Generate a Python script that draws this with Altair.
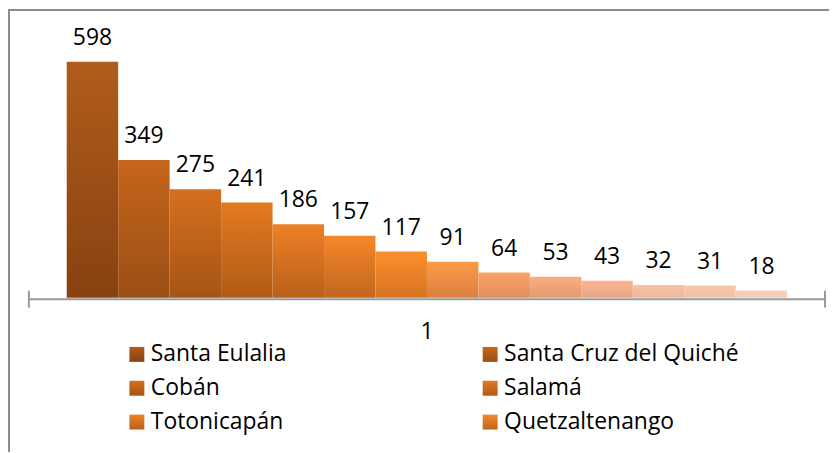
import altair as alt
import pandas as pd

# ---- data ----
values = [598, 349, 275, 241, 186, 157, 117, 91, 64, 53, 43, 32, 31, 18]
legend_names = ["Santa Eulalia", "Santa Cruz del Quiché", "Cobán", "Salamá",
                "Totonicapán", "Quetzaltenango"]
category = ["1"]

# gradient colours per bar (top -> bottom)
top_colors = ["#B15C1B", "#C5661C", "#D4701F", "#E27A22", "#ED8126", "#F5872A",
              "#FC8F2C", "#FC9A48", "#F9A46A", "#FAAE80", "#F9B690", "#F8C2A4",
              "#F8C8AE", "#F9D2BE"]
bottom_colors = ["#874210", "#9B4E15", "#A55416", "#B05B18", "#B8601A", "#C2661E",
                 "#D67422", "#DA8040", "#E08D5A", "#E39A70", "#E6A684", "#EDB89C",
                 "#EFC0A8", "#F1CAB8"]

FONT = "Open Sans"
W, H = 825, 445

bars_df = pd.DataFrame({"idx": list(range(len(values))), "value": values})
leg_df = pd.DataFrame({"idx": list(range(len(legend_names))), "name": legend_names})
cat_df = pd.DataFrame({"cat": category})

xscale = alt.Scale(domain=[0, len(values)], range=[59, 783], nice=False, zero=False)
yscale = alt.Scale(domain=[0, 598], range=[290, 53], nice=False, zero=False)


def grad(i):
    return alt.LinearGradient(
        gradient="linear", x1=0, x2=0, y1=0, y2=1,
        stops=[alt.GradientStop(color=top_colors[i], offset=0),
               alt.GradientStop(color=bottom_colors[i], offset=1)])


base = alt.Chart(bars_df).transform_calculate(
    x0="datum.idx", x1="datum.idx + 1", xc="datum.idx + 0.5")

layers = []
for i in range(len(values)):
    layers.append(
        base.transform_filter(alt.datum.idx == i).mark_rect(fill=grad(i), stroke=None).encode(
            x=alt.X("x0:Q", scale=xscale, axis=None),
            x2="x1:Q",
            y=alt.Y("value:Q", scale=yscale, axis=None),
            y2=alt.Y2(datum=0),
        )
    )

labels = base.mark_text(font=FONT, fontSize=23, color="#000000", baseline="alphabetic",
                        align="center", dy=-17).encode(
    x=alt.X("xc:Q", scale=xscale, axis=None),
    y=alt.Y("value:Q", scale=yscale, axis=None),
    text="value:Q",
)

# axis line with end ticks
dummy = pd.DataFrame({"a": [0]})
axis_line = alt.Chart(dummy).mark_rule(color="#9a9a9a", strokeWidth=2).encode(
    x=alt.value(21), x2=alt.value(821), y=alt.value(291.5))
tick_l = alt.Chart(dummy).mark_rule(color="#9a9a9a", strokeWidth=2).encode(
    x=alt.value(21), y=alt.value(283), y2=alt.value(300))
tick_r = alt.Chart(dummy).mark_rule(color="#9a9a9a", strokeWidth=2).encode(
    x=alt.value(821), y=alt.value(283), y2=alt.value(300))

# outer frame (top and left edges visible)
frame_top = alt.Chart(dummy).mark_rule(color="#8c8c8c", strokeWidth=2).encode(
    x=alt.value(0), x2=alt.value(W), y=alt.value(1))
frame_left = alt.Chart(dummy).mark_rule(color="#8c8c8c", strokeWidth=2).encode(
    x=alt.value(1), y=alt.value(0), y2=alt.value(H))

cat_label = alt.Chart(cat_df).mark_text(font=FONT, fontSize=23, color="#000000",
                                        baseline="middle", align="center").encode(
    x=alt.value(421), y=alt.value(325), text="cat:N")

# legend (2 columns)
leg_base = alt.Chart(leg_df).transform_calculate(
    col="datum.idx % 2", row="floor(datum.idx / 2)"
).transform_calculate(
    cx="129.5 + 355 * datum.col", cy="347 + 34 * datum.row"
).transform_calculate(
    sx0="datum.cx - 7.5", sx1="datum.cx + 7.5", sy0="datum.cy - 7.5", sy1="datum.cy + 7.5",
    tx="datum.cx + 14"
)
leg_layers = []
for i in range(len(legend_names)):
    leg_layers.append(
        leg_base.transform_filter(alt.datum.idx == i).mark_rect(fill=grad(i)).encode(
            x=alt.X("sx0:Q", scale=None), x2="sx1:Q",
            y=alt.Y("sy0:Q", scale=None), y2="sy1:Q")
    )
leg_text = leg_base.mark_text(font=FONT, fontSize=23, color="#000000", align="left",
                              baseline="middle").encode(
    x=alt.X("tx:Q", scale=None), y=alt.Y("cy:Q", scale=None), text="name:N")

chart = alt.layer(
    *layers, labels, axis_line, tick_l, tick_r, frame_top, frame_left, cat_label,
    *leg_layers, leg_text
).resolve_scale(x="independent", y="independent").properties(
    width=W, height=H, padding=0, autosize=alt.AutoSizeParams(type="none"),
    background="white"
).configure_view(stroke=None)

chart.save("out.html", embed_options={"renderer": "svg", "actions": False})
